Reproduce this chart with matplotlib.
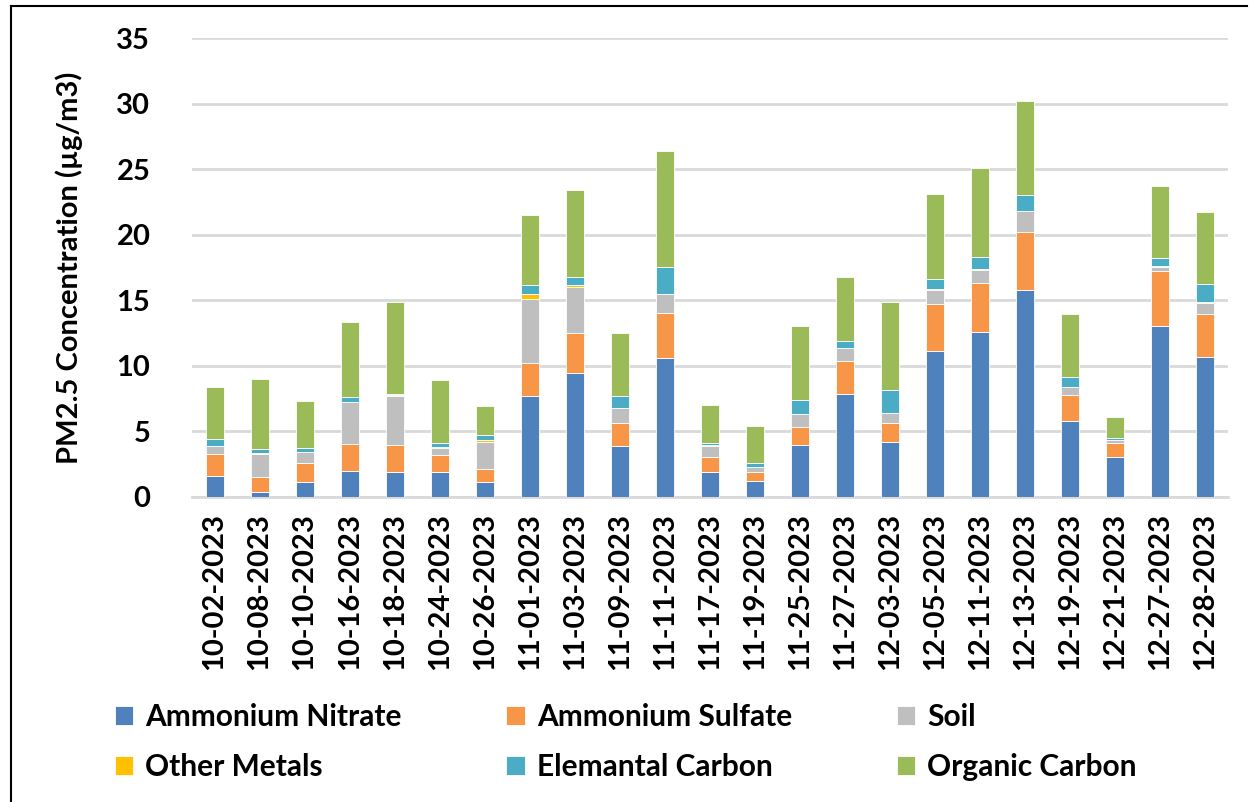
### PACKAGES ###
import numpy as np
import matplotlib
matplotlib.use("Agg")
import matplotlib.pyplot as plt
from matplotlib.lines import Line2D

### DATA ###
dates = ['10-02-2023', '10-08-2023', '10-10-2023', '10-16-2023', '10-18-2023', '10-24-2023',
         '10-26-2023', '11-01-2023', '11-03-2023', '11-09-2023', '11-11-2023', '11-17-2023',
         '11-19-2023', '11-25-2023', '11-27-2023', '12-03-2023', '12-05-2023', '12-11-2023',
         '12-13-2023', '12-19-2023', '12-21-2023', '12-27-2023', '12-28-2023']

ammonium_nitrate = [1.60, 0.38, 1.15, 1.99, 1.91, 1.91, 1.15, 7.69, 9.43, 3.90, 10.62, 1.91,
                    1.22, 3.92, 7.87, 4.20, 11.13, 12.56, 15.79, 5.78, 3.01, 13.02, 10.67]
ammonium_sulfate = [1.66, 1.15, 1.45, 2.01, 2.04, 1.30, 0.99, 2.51, 3.05, 1.75, 3.44, 1.15,
                    0.69, 1.43, 2.50, 1.45, 3.61, 3.77, 4.43, 2.01, 1.12, 4.22, 3.31]
soil = [0.59, 1.76, 0.81, 3.21, 3.74, 0.53, 2.02, 4.90, 3.52, 1.13, 1.40, 0.84,
        0.36, 0.97, 0.97, 0.72, 1.03, 0.97, 1.58, 0.59, 0.18, 0.31, 0.82]
other_metals = [0.05, 0.03, 0.03, 0.05, 0.05, 0.03, 0.17, 0.40, 0.17, 0.03, 0.04, 0.02,
                0.02, 0.03, 0.03, 0.03, 0.10, 0.05, 0.05, 0.03, 0.02, 0.03, 0.05]
elemental_carbon = [0.50, 0.30, 0.26, 0.33, 0.11, 0.31, 0.36, 0.70, 0.59, 0.91, 2.07, 0.16,
                    0.31, 1.06, 0.55, 1.75, 0.79, 0.96, 1.15, 0.71, 0.18, 0.68, 1.38]
organic_carbon = [4.00, 5.40, 3.63, 5.78, 7.00, 4.86, 2.26, 5.30, 6.67, 4.81, 8.86, 2.90,
                  2.83, 5.61, 4.84, 6.70, 6.44, 6.78, 7.23, 4.86, 1.60, 5.48, 5.54]

series = [('Ammonium Nitrate', ammonium_nitrate, '#4F81BD'),
          ('Ammonium Sulfate', ammonium_sulfate, '#F79646'),
          ('Soil', soil, '#BFBFBF'),
          ('Other Metals', other_metals, '#FFC000'),
          ('Elemantal Carbon', elemental_carbon, '#4BACC6'),
          ('Organic Carbon', organic_carbon, '#9BBB59')]

### PLOT ###
plt.rcParams['font.family'] = ['Lato', 'DejaVu Sans']
plt.rcParams['font.weight'] = 'bold'

fig = plt.figure(figsize=(12.54, 8.02), dpi=100)
ax = fig.add_axes([192 / 1254, 1 - 496.7 / 802, 1036 / 1254, 458.4 / 802])

x = np.arange(len(dates))
bottom = np.zeros(len(dates))
handles = []
for name, vals, color in series:
    bars = ax.bar(x, vals, 0.4, bottom=bottom, color=color, edgecolor='white',
                  linewidth=0.6, label=name, zorder=3)
    bottom += np.array(vals)
    handles.append(bars)

ax.set_xlim(-0.5, len(dates) - 0.5)
ax.set_ylim(0, 35)
ax.set_yticks(np.arange(0, 36, 5))
ax.yaxis.grid(True, color='#D9D9D9', linewidth=2, zorder=0)
ax.set_axisbelow(True)
for s in ['top', 'right', 'left']:
    ax.spines[s].set_visible(False)
ax.spines['bottom'].set_color('#D9D9D9')
ax.spines['bottom'].set_linewidth(2)
ax.tick_params(axis='both', length=0, labelsize=21)
ax.tick_params(axis='y', pad=30)
ax.tick_params(axis='x', pad=12)
ax.set_xticks(x)
ax.set_xticklabels(dates, rotation=90, fontweight='bold')
for t in ax.get_yticklabels():
    t.set_fontweight('bold')
ax.set_ylabel('PM2.5 Concentration (µg/m3)', fontsize=21, fontweight='bold', labelpad=24)

# legend: row-major order in the picture, matplotlib fills column-wise
order = [0, 3, 1, 4, 2, 5]
fig.legend([handles[i] for i in order], [series[i][0] for i in order],
           ncol=3, loc='lower left', bbox_to_anchor=(94 / 1254, 0),
           frameon=False, handlelength=0.62, handleheight=0.62,
           handletextpad=0.4, columnspacing=3.5, labelspacing=0.75,
           borderaxespad=0.3, prop={'weight': 'bold', 'size': 21.5})

# chart border (top and left visible)
fig.add_artist(Line2D([11 / 1254, 11 / 1254], [0, 1 - 6 / 802], transform=fig.transFigure,
                      color='black', linewidth=1.5))
fig.add_artist(Line2D([11 / 1254, 1247 / 1254], [1 - 6 / 802, 1 - 6 / 802],
                      transform=fig.transFigure, color='black', linewidth=1.5))

fig.savefig('out.png', dpi=100)
